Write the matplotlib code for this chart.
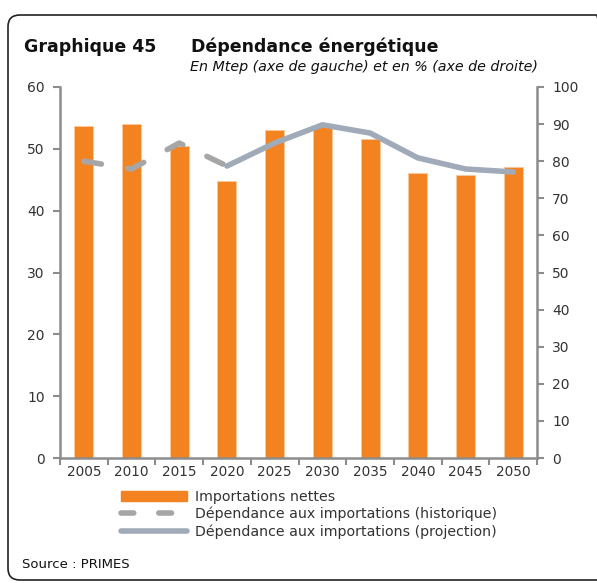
import matplotlib.pyplot as plt
import numpy as np
from matplotlib.patches import FancyBboxPatch
from matplotlib.lines import Line2D
from matplotlib.patches import Patch

# Données
annees = ["2005", "2010", "2015", "2020", "2025", "2030", "2035", "2040", "2045", "2050"]
importations = [53.7, 54.0, 50.4, 44.8, 53.0, 53.9, 51.6, 46.1, 45.8, 47.1]
dep_historique = [80.0, 77.9, 84.9, 78.7]
dep_projection = [78.7, 84.9, 89.8, 87.6, 80.9, 77.9, 77.1]

ORANGE = "#f38321"
GRIS_HIST = "#a6a6a6"
GRIS_PROJ = "#a0aab8"
GRIS_AXE = "#8c8c8c"

fig = plt.figure(figsize=(5.97, 5.83), dpi=100)

# cadre arrondi
cadre = FancyBboxPatch((8 / 597, 3 / 583), 600 / 597, 565 / 583,
                       boxstyle="round,pad=0,rounding_size=0.02",
                       transform=fig.transFigure, fill=False,
                       edgecolor="#222222", linewidth=1.2, clip_on=False)
fig.patches.append(cadre)

fig.text(24 / 597, 1 - 47 / 583, "Graphique 45", fontsize=12.5, fontweight="bold",
         va="center", ha="left", color="#111111")
fig.text(191 / 597, 1 - 47 / 583, "Dépendance énergétique", fontsize=12.5,
         fontweight="bold", va="center", ha="left", color="#111111")
fig.text(190 / 597, 1 - 67 / 583, "En Mtep (axe de gauche) et en % (axe de droite)",
         fontsize=10.25, style="italic", va="center", ha="left", color="#111111")

ax = fig.add_axes([60 / 597, 1 - 458 / 583, 477 / 597, 371 / 583])
x = np.arange(len(annees))
ax.bar(x, importations, width=0.4, color=ORANGE, edgecolor="#fbc9a0", linewidth=0.6,
       zorder=2)
ax.set_xlim(-0.5, len(annees) - 0.5)
ax.set_ylim(0, 60)
ax.set_yticks(range(0, 61, 10))

ax2 = ax.twinx()
ax2.plot(x[:4], dep_historique, color=GRIS_HIST, linewidth=4, dashes=(3.2, 4.8),
         solid_capstyle="round", dash_capstyle="round", zorder=3)
ax2.plot(x[3:], dep_projection, color=GRIS_PROJ, linewidth=4, solid_capstyle="round",
         zorder=3)
ax2.set_ylim(0, 100)
ax2.set_yticks(range(0, 101, 10))

for a in (ax, ax2):
    for s in a.spines.values():
        s.set_visible(False)
ax.spines["left"].set_visible(True)
ax.spines["bottom"].set_visible(True)
ax2.spines["right"].set_visible(True)
for s in (ax.spines["left"], ax.spines["bottom"], ax2.spines["right"]):
    s.set_color(GRIS_AXE)
    s.set_linewidth(1.8)

ax.set_xticks(x)
ax.set_xticklabels(annees)
ax.set_xticks(np.arange(-0.5, len(annees), 1), minor=True)
ax.tick_params(axis="x", which="major", length=0, pad=5, labelsize=9.8,
               labelcolor="#333333")
ax.tick_params(axis="x", which="minor", length=5, width=1.5, color=GRIS_AXE)
ax.tick_params(axis="y", length=5, width=1.5, color=GRIS_AXE, labelsize=10,
               labelcolor="#333333", pad=6)
ax2.tick_params(axis="y", length=5, width=1.5, color=GRIS_AXE, labelsize=10,
                labelcolor="#333333", pad=6)

poignees = [
    Patch(facecolor=ORANGE, edgecolor=ORANGE),
    Line2D([], [], color=GRIS_HIST, linewidth=4, dashes=(2.3, 4.5),
           dash_capstyle="round"),
    Line2D([], [], color=GRIS_PROJ, linewidth=4, solid_capstyle="round"),
]
etiquettes = ["Importations nettes", "Dépendance aux importations (historique)",
              "Dépendance aux importations (projection)"]
fig.legend(poignees, etiquettes, loc="upper left",
           bbox_to_anchor=(115 / 597, 1 - 484 / 583), frameon=False,
           fontsize=10.2, handlelength=4.7, handleheight=0.7, labelspacing=0.22,
           handletextpad=0.55, borderaxespad=0, labelcolor="#333333")

fig.text(22 / 597, 1 - 565 / 583, "Source : PRIMES", fontsize=9.5, va="center",
         ha="left", color="#111111")

fig.savefig("out.png", dpi=100)
